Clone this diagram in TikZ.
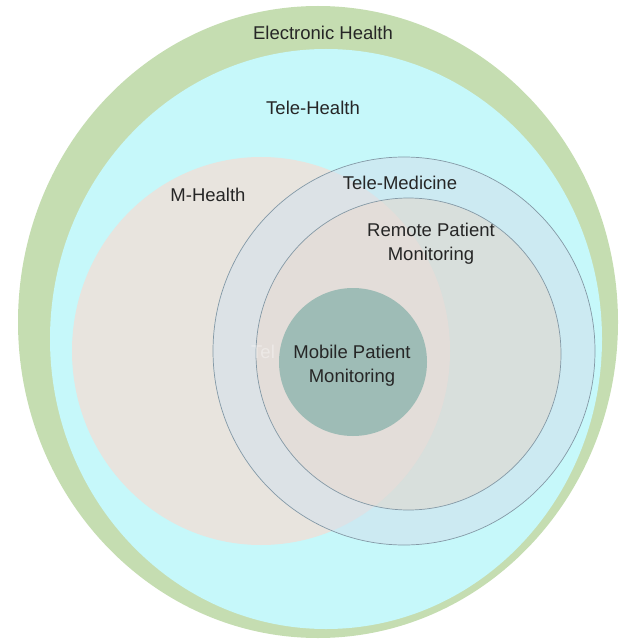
\documentclass[tikz,border=0pt]{standalone}
\usepackage{fontspec}
\setmainfont{Liberation Sans}
\definecolor{ehgreen}{HTML}{C5DDB1}
\definecolor{thcyan}{HTML}{C6F8FA}
\definecolor{mhbeige}{HTML}{E8E4DE}
\definecolor{tmblue}{HTML}{CCEAF2}
\definecolor{tmover}{HTML}{DCE2E6}
\definecolor{rpmgray}{HTML}{D8DFDC}
\definecolor{rpmover}{HTML}{E3DDD9}
\definecolor{mpmteal}{HTML}{9EBCB6}
\definecolor{ringline}{HTML}{8499A6}
\definecolor{txt}{HTML}{262626}
\begin{document}
\begin{tikzpicture}[x=1pt,y=-1pt,
  lbl/.style={font=\fontsize{18.5}{24}\selectfont, text=txt, align=center, inner sep=0pt},
  ring/.style={draw=ringline, line width=0.7pt}]
\useasboundingbox (0,0) rectangle (631,639);
% Electronic Health
\fill[ehgreen] (318,322) ellipse [x radius=300pt, y radius=316pt];
% Tele-Health
\fill[thcyan] (326,339) ellipse [x radius=276pt, y radius=290pt];
% M-Health
\fill[mhbeige] (261,351) ellipse [x radius=189pt, y radius=194pt];
% Tele-Medicine
\fill[tmblue] (404,351) ellipse [x radius=191pt, y radius=194pt];
\begin{scope}
  \clip (261,351) ellipse [x radius=189pt, y radius=194pt];
  \fill[tmover] (404,351) ellipse [x radius=191pt, y radius=194pt];
\end{scope}
% Remote Patient Monitoring
\fill[rpmgray] (408.5,354) ellipse [x radius=152.5pt, y radius=156pt];
\begin{scope}
  \clip (261,351) ellipse [x radius=189pt, y radius=194pt];
  \fill[rpmover] (408.5,354) ellipse [x radius=152.5pt, y radius=156pt];
\end{scope}
\draw[ring] (404,351) ellipse [x radius=191pt, y radius=194pt];
\draw[ring] (408.5,354) ellipse [x radius=152.5pt, y radius=156pt];
% faint hidden label
\node[lbl, text=white, text opacity=0.35, anchor=west] (ghost) at (251,352) {Tel};
% Mobile Patient Monitoring
\fill[mpmteal] (353,362) circle [radius=74pt];
% labels
\node[lbl] (eh) at (323,33) {Electronic Health};
\node[lbl] (th) at (313,108) {Tele-Health};
\node[lbl] (mh) at (208,195) {M-Health};
\node[lbl] (tm) at (400,183) {Tele-Medicine};
\node[lbl] (rpm) at (431,244) {Remote Patient\\Monitoring};
\node[lbl] (mpm) at (352,366) {Mobile Patient\\Monitoring};
\end{tikzpicture}
\end{document}
